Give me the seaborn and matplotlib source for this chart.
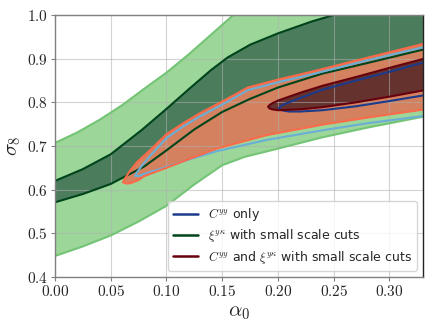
import numpy as np
import matplotlib
matplotlib.use("Agg")
import matplotlib.pyplot as plt
import seaborn as sns
from matplotlib.lines import Line2D

# contour boundaries (alpha_0, sigma_8)
# xi^{y kappa} with small scale cuts, 2 sigma band
xi2_x_up = [0.00, 0.02, 0.04, 0.06, 0.08, 0.10, 0.12, 0.14, 0.16, 0.18, 0.34]
xi2_y_up = [0.707, 0.731, 0.760, 0.793, 0.831, 0.868, 0.910, 0.955, 1.0, 1.04, 1.30]
xi2_x_lo = [0.00, 0.025, 0.05, 0.075, 0.10, 0.125, 0.15, 0.17, 0.20, 0.24, 0.28, 0.34]
xi2_y_lo = [0.448, 0.470, 0.495, 0.527, 0.563, 0.612, 0.656, 0.675, 0.694, 0.720, 0.742, 0.772]
# 1 sigma band
xi1_x_up = [0.00, 0.025, 0.05, 0.078, 0.10, 0.12, 0.14, 0.155, 0.175, 0.20, 0.23, 0.25, 0.34]
xi1_y_up = [0.620, 0.647, 0.681, 0.737, 0.785, 0.830, 0.874, 0.903, 0.932, 0.958, 0.985, 1.0, 1.06]
xi1_x_lo = [0.00, 0.025, 0.05, 0.08, 0.10, 0.125, 0.15, 0.175, 0.20, 0.24, 0.28, 0.34]
xi1_y_lo = [0.571, 0.590, 0.613, 0.653, 0.690, 0.738, 0.778, 0.808, 0.834, 0.866, 0.890, 0.927]

# C^yy and xi^{y kappa}, 2 sigma
cb2_x_up = [0.061, 0.063, 0.067, 0.0736, 0.086, 0.10, 0.115, 0.13, 0.148, 0.173, 0.20, 0.23, 0.28, 0.34]
cb2_y_up = [0.617, 0.626, 0.642, 0.663, 0.692, 0.727, 0.752, 0.775, 0.799, 0.834, 0.852, 0.870, 0.902, 0.940]
cb2_x_lo = [0.061, 0.064, 0.068, 0.075, 0.08, 0.10, 0.12, 0.145, 0.19, 0.24, 0.28, 0.34]
cb2_y_lo = [0.617, 0.614, 0.615, 0.622, 0.631, 0.650, 0.670, 0.694, 0.725, 0.749, 0.765, 0.787]
# 1 sigma
cb1_x_up = [0.1913, 0.1925, 0.195, 0.20, 0.22, 0.24, 0.27, 0.30, 0.34]
cb1_y_up = [0.790, 0.794, 0.798, 0.804, 0.822, 0.838, 0.858, 0.879, 0.906]
cb1_x_lo = [0.1913, 0.1925, 0.195, 0.20, 0.22, 0.24, 0.27, 0.30, 0.34]
cb1_y_lo = [0.790, 0.786, 0.784, 0.782, 0.784, 0.789, 0.800, 0.813, 0.832]

# C^yy only, 2 sigma
cy2_x_up = [0.072, 0.074, 0.078, 0.086, 0.10, 0.115, 0.13, 0.148, 0.173, 0.20, 0.23, 0.28, 0.34]
cy2_y_up = [0.632, 0.641, 0.655, 0.679, 0.718, 0.745, 0.768, 0.792, 0.828, 0.846, 0.864, 0.896, 0.932]
cy2_x_lo = [0.072, 0.075, 0.08, 0.10, 0.12, 0.145, 0.19, 0.24, 0.28, 0.34]
cy2_y_lo = [0.632, 0.631, 0.636, 0.652, 0.669, 0.688, 0.714, 0.736, 0.752, 0.772]
# 1 sigma
cy1_x_up = [0.201, 0.2025, 0.205, 0.21, 0.22, 0.24, 0.27, 0.30, 0.34]
cy1_y_up = [0.787, 0.791, 0.795, 0.800, 0.810, 0.829, 0.850, 0.870, 0.898]
cy1_x_lo = [0.201, 0.2025, 0.205, 0.21, 0.22, 0.24, 0.27, 0.30, 0.34]
cy1_y_lo = [0.787, 0.783, 0.781, 0.779, 0.779, 0.782, 0.791, 0.803, 0.820]

labels = [r"$C^{yy}$ only",
          r"$\xi^{y\kappa}$ with small scale cuts",
          r"$C^{yy}$ and $\xi^{y\kappa}$ with small scale cuts"]
xticks = [0.00, 0.05, 0.10, 0.15, 0.20, 0.25, 0.30]
yticks = [0.4, 0.5, 0.6, 0.7, 0.8, 0.9, 1.0]

sns.set_style("whitegrid")
plt.rcParams["font.family"] = ["DejaVu Sans"]
plt.rcParams["mathtext.fontset"] = "cm"

fig = plt.figure(figsize=(4.36, 3.27), dpi=100)
ax = fig.add_axes([0.126, 0.153, 0.844, 0.801])


def fill_region(xu, yu, xl, yl, color, z):
    px = np.concatenate([xu, np.array(xl)[::-1]])
    py = np.concatenate([yu, np.array(yl)[::-1]])
    ax.fill(px, py, color=color, lw=0, zorder=z)


def edge(xu, yu, xl, yl, color):
    for xs, ys in ((xu, yu), (xl, yl)):
        sns.lineplot(x=xs, y=ys, sort=False, estimator=None, color=color,
                     lw=1.5, ax=ax, zorder=3)


fill_region(xi2_x_up, xi2_y_up, xi2_x_lo, xi2_y_lo, "#9cd699", 1)
fill_region(xi1_x_up, xi1_y_up, xi1_x_lo, xi1_y_lo, "#4b7d5c", 1.1)
fill_region(cb2_x_up, cb2_y_up, cb2_x_lo, cb2_y_lo, "#d3815e", 1.2)
fill_region(cb1_x_up, cb1_y_up, cb1_x_lo, cb1_y_lo, "#65322d", 1.3)

edge(xi2_x_up, xi2_y_up, xi2_x_lo, xi2_y_lo, "#74c476")
edge(xi1_x_up, xi1_y_up, xi1_x_lo, xi1_y_lo, "#00441b")
edge(cy2_x_up, cy2_y_up, cy2_x_lo, cy2_y_lo, "#6baed6")
edge(cy1_x_up, cy1_y_up, cy1_x_lo, cy1_y_lo, "#1c3b8a")
edge(cb2_x_up, cb2_y_up, cb2_x_lo, cb2_y_lo, "#fb6a4a")
edge(cb1_x_up, cb1_y_up, cb1_x_lo, cb1_y_lo, "#67000d")

ax.set_xlim(0, 0.33)
ax.set_ylim(0.4, 1.0)
ax.set_xticks(xticks)
ax.set_xticklabels([f"${v:.2f}$" for v in xticks], fontsize=11)
ax.set_yticks(yticks)
ax.set_yticklabels([f"${v:.1f}$" for v in yticks], fontsize=11)
ax.set_xlabel(r"$\alpha_0$", fontsize=15, labelpad=2)
ax.set_ylabel(r"$\sigma_8$", fontsize=15, labelpad=3)

ax.set_axisbelow(False)
ax.grid(True, color="#b0b0b0", lw=0.8, alpha=0.55)
for s in ax.spines.values():
    s.set_color("#808080")
    s.set_linewidth(1.0)
    s.set_zorder(4)
ax.spines["right"].set_color("#222222")
ax.tick_params(left=True, bottom=True, length=3, color="#808080", pad=2)

handles = [Line2D([], [], color="#1c3b8a", lw=1.8),
           Line2D([], [], color="#00441b", lw=1.8),
           Line2D([], [], color="#67000d", lw=1.8)]
ax.legend(handles, labels, loc="lower right", fontsize=9, frameon=True,
          framealpha=0.8, handlelength=2.0, borderpad=0.4, labelspacing=0.35)

fig.savefig("out.png", dpi=100)
